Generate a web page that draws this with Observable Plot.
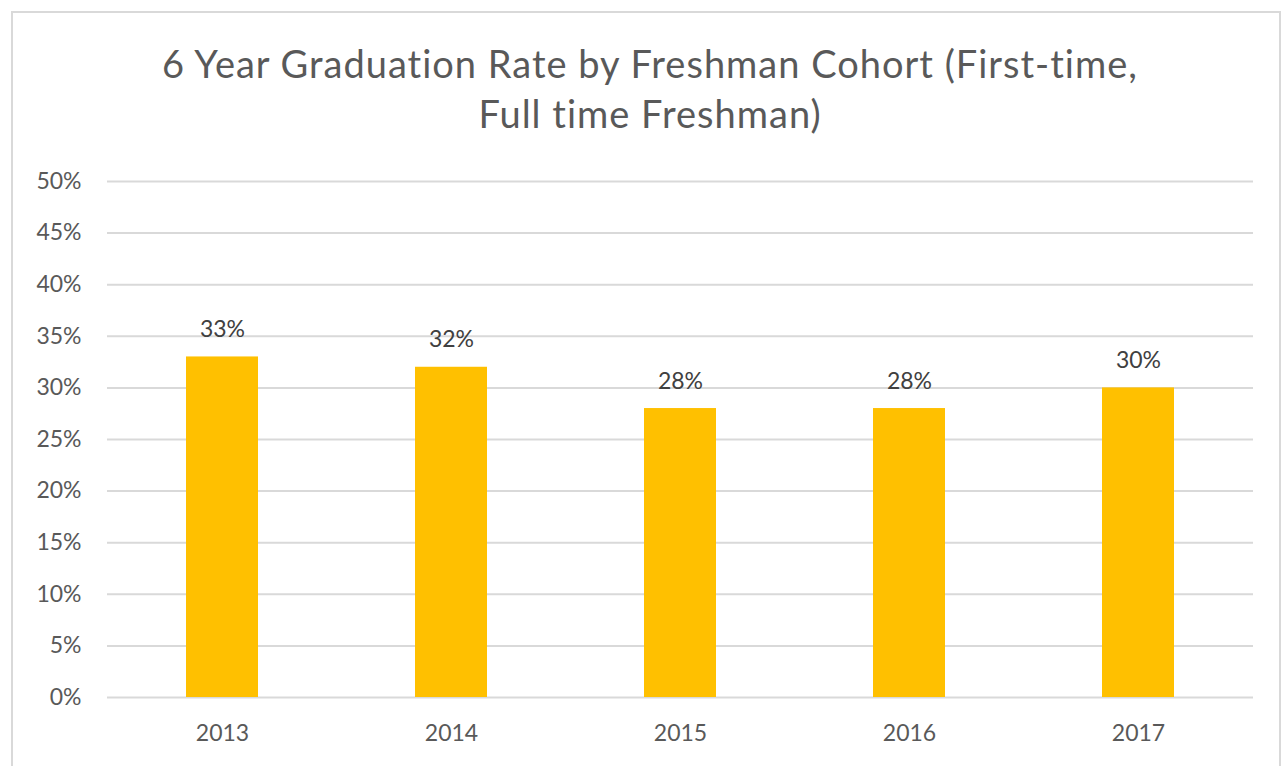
<!DOCTYPE html>
<html>
<head>
<meta charset="utf-8">
<script src="https://cdn.jsdelivr.net/npm/d3@7"></script>
<script src="https://cdn.jsdelivr.net/npm/@observablehq/plot@0.6"></script>
<style>
  html, body { margin: 0; padding: 0; background: #fff; }
  #wrap { position: relative; width: 1286px; height: 766px; overflow: hidden; font-family: Lato, "Open Sans", sans-serif; font-variant-ligatures: none; font-feature-settings: "liga" 0, "clig" 0; }
  #frame { position: absolute; left: 11px; top: 11px; width: 1270px; height: 800px; border: 2px solid #d9d9d9; box-sizing: border-box; }
  #title { position: absolute; left: 0; top: 38px; width: 1300px; text-align: center; font-size: 38px; letter-spacing: 1px; line-height: 50px; color: #595959; }
  #chart { position: absolute; left: 0; top: 0; }
  #chart text { font-variant-ligatures: none; font-feature-settings: "liga" 0, "clig" 0; }
</style>
</head>
<body>
<div id="wrap">
  <div id="frame"></div>
  <div id="chart"></div>
  <div id="title">6 Year Graduation Rate by Freshman Cohort (First-time,<br>Full time Freshman)</div>
</div>
<script>
const cohorts = ["2013", "2014", "2015", "2016", "2017"];
const rates = [0.33, 0.32, 0.28, 0.28, 0.30];
const yTicks = [0, 0.05, 0.10, 0.15, 0.20, 0.25, 0.30, 0.35, 0.40, 0.45, 0.50];

const data = cohorts.map((c, i) => ({cohort: c, rate: rates[i]}));
const pct = d3.format(".0%");

const chart = Plot.plot({
  width: 1286,
  height: 766,
  marginLeft: 107,
  marginRight: 33,
  marginTop: 181,
  marginBottom: 69,
  style: {fontFamily: "Lato, 'Open Sans', sans-serif", background: "transparent", overflow: "visible"},
  x: {domain: cohorts, paddingInner: 0.686, paddingOuter: 0.343, label: null},
  y: {domain: [0, 0.5], label: null},
  marks: [
    Plot.gridY(yTicks, {stroke: "#d9d9d9", strokeWidth: 2, strokeOpacity: 1}),
    Plot.barY(data, {x: "cohort", y: "rate", fill: "#FFC000"}),
    Plot.text(data, {x: "cohort", y: "rate", text: d => pct(d.rate), lineAnchor: "bottom", dy: -20, fontSize: 23, fill: "#404040"}),
    Plot.axisY(yTicks, {tickFormat: pct, tickSize: 0, tickPadding: 26, fontSize: 23, color: "#595959", label: null}),
    Plot.axisX({tickSize: 0, tickPadding: 27, fontSize: 23, color: "#595959", label: null})
  ]
});
document.getElementById("chart").appendChild(chart);
</script>
</body>
</html>
